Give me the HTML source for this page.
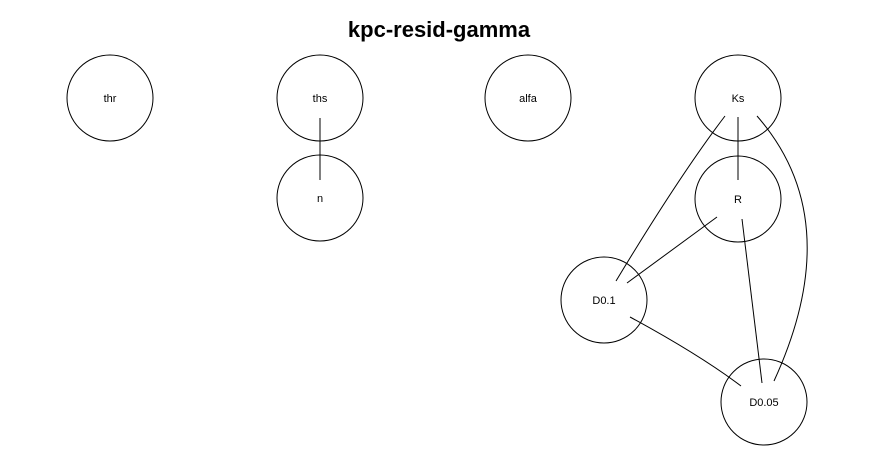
<!DOCTYPE html>
<html><head><meta charset="utf-8"><style>
html,body{margin:0;padding:0;background:#fff;}
svg{display:block;}
text{font-family:"Liberation Sans",Arial,sans-serif;}
</style></head><body>
<svg width="878" height="460" viewBox="0 0 878 460" xmlns="http://www.w3.org/2000/svg">
<rect width="878" height="460" fill="#fff"/>
<text x="439" y="37" text-anchor="middle" font-size="22" font-weight="bold">kpc-resid-gamma</text>
<g fill="none" stroke="#000" stroke-width="1">
<circle cx="110" cy="98" r="43"/>
<circle cx="320" cy="98" r="43"/>
<circle cx="320" cy="198" r="43"/>
<circle cx="528" cy="98" r="43"/>
<circle cx="738" cy="98" r="43"/>
<circle cx="738" cy="199" r="43"/>
<circle cx="604" cy="300" r="43"/>
<circle cx="764" cy="402" r="43"/>
<line x1="320" y1="118" x2="320" y2="180"/>
<line x1="738" y1="117" x2="738" y2="180"/>
<path d="M725,116 Q680,175 616,281"/>
<path d="M757,116 Q848,220 774,381"/>
<line x1="717" y1="217" x2="627" y2="283"/>
<line x1="742" y1="219" x2="762" y2="383"/>
<path d="M630,317 Q700,355 741,386"/>
</g>
<g font-size="11" text-anchor="middle">
<text x="110" y="102">thr</text>
<text x="320" y="102">ths</text>
<text x="320" y="202">n</text>
<text x="528" y="102">alfa</text>
<text x="738" y="102">Ks</text>
<text x="738" y="203">R</text>
<text x="604" y="304">D0.1</text>
<text x="764" y="406">D0.05</text>
</g>
</svg>
</body></html>
